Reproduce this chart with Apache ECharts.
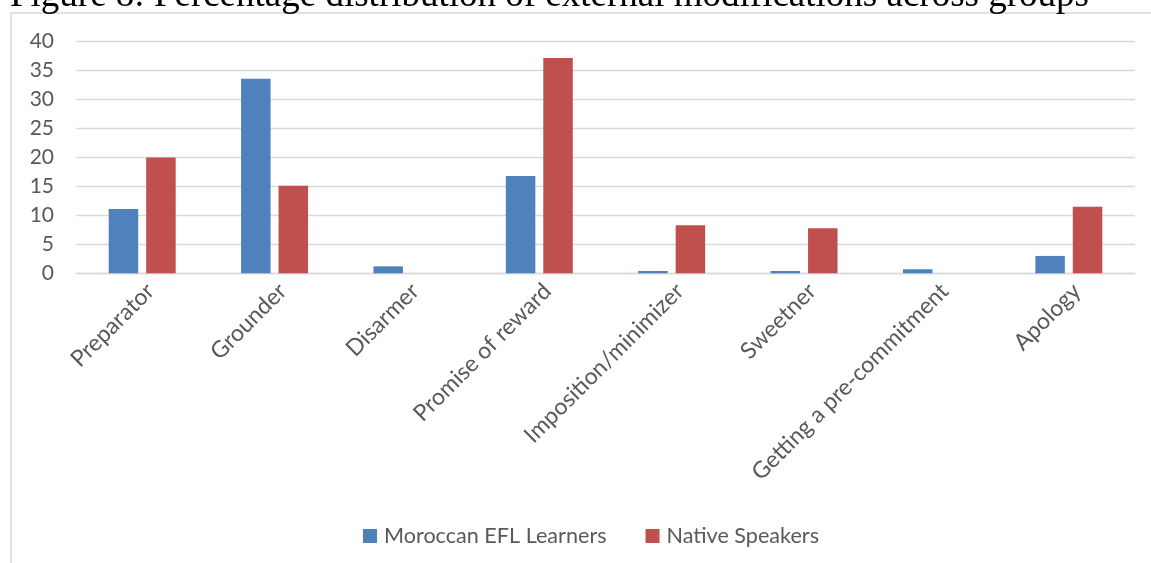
<!DOCTYPE html>
<html>
<head>
<meta charset="utf-8">
<script src="https://cdn.jsdelivr.net/npm/echarts@6/dist/echarts.min.js"></script>
<style>
  html, body { margin: 0; padding: 0; background: #ffffff; }
  #chart { width: 1151px; height: 563px; }
</style>
</head>
<body>
<div id="chart"></div>
<script>
// External modification types
const categories = [
  'Preparator', 'Grounder', 'Disarmer', 'Promise of reward',
  'Imposition/minimizer', 'Sweetner', 'Getting a pre-commitment', 'Apology'
];
// Percentages per group
const moroccanEFL = [11.1, 33.6, 1.2, 16.8, 0.4, 0.4, 0.7, 3.0];
const nativeSpeakers = [20.0, 15.1, 0, 37.2, 8.3, 7.8, 0, 11.5];
const seriesNames = ['Moroccan EFL Learners', 'Native Speakers'];
const titleText = 'Figure 8: Percentage distribution of external modifications across groups';

const textColor = '#595959';
const gridColor = '#d9d9d9';
const uiFont = 'Lato';

const chart = echarts.init(document.getElementById('chart'), null, { renderer: 'canvas' });

chart.setOption({
  animation: false,
  backgroundColor: '#ffffff',
  title: {
    text: titleText,
    left: 10,
    top: -22,
    padding: 0,
    textStyle: {
      fontFamily: 'Liberation Serif',
      fontSize: 37,
      fontWeight: 'normal',
      color: '#000000'
    }
  },
  graphic: [{
    type: 'rect',
    silent: true,
    z: -1,
    shape: { x: 11, y: 13, width: 1200, height: 700 },
    style: { fill: 'none', stroke: gridColor, lineWidth: 1.5 }
  }],
  legend: {
    left: 363,
    top: 525,
    padding: 0,
    itemWidth: 14,
    itemHeight: 14,
    itemGap: 39,
    icon: 'rect',
    textStyle: {
      fontFamily: uiFont,
      fontSize: 21.6,
      color: textColor,
      padding: [0, 0, 0, 2]
    },
    data: seriesNames
  },
  grid: {
    left: 76,
    right: 16,
    top: 41.7,
    bottom: 289.7,
    containLabel: false
  },
  xAxis: {
    type: 'category',
    data: categories,
    axisLine: { lineStyle: { color: gridColor, width: 1.3 } },
    axisTick: { show: false },
    axisLabel: {
      rotate: 45,
      interval: 0,
      margin: 6,
      verticalAlign: 'top',
      fontFamily: uiFont,
      fontSize: 23,
      color: textColor
    }
  },
  yAxis: {
    type: 'value',
    min: 0,
    max: 40,
    interval: 5,
    axisLine: { show: false },
    axisTick: { show: false },
    splitLine: { lineStyle: { color: gridColor, width: 1.3 } },
    axisLabel: {
      margin: 22,
      fontFamily: uiFont,
      fontSize: 21,
      color: textColor
    }
  },
  series: [
    {
      name: seriesNames[0],
      type: 'bar',
      data: moroccanEFL,
      barWidth: 29.5,
      barGap: '27%',
      itemStyle: { color: '#4f81bd' }
    },
    {
      name: seriesNames[1],
      type: 'bar',
      data: nativeSpeakers,
      barWidth: 29.5,
      barGap: '27%',
      itemStyle: { color: '#c0504d' }
    }
  ]
});
</script>
</body>
</html>
